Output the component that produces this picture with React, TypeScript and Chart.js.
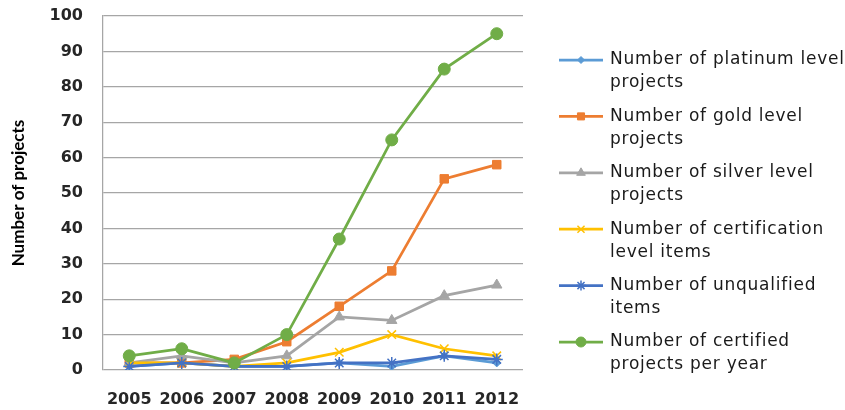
import React, { useEffect, useRef } from "react";
import { Chart, registerables } from "chart.js";
import { drawPoint } from "chart.js/helpers";

Chart.register(...registerables);

const years = ["2005", "2006", "2007", "2008", "2009", "2010", "2011", "2012"];
const platinum = [1, 2, 1, 1, 2, 1, 4, 2];
const gold = [2, 2, 3, 8, 18, 28, 54, 58];
const silver = [2, 4, 2, 4, 15, 14, 21, 24];
const certification = [2, 2, 1, 2, 5, 10, 6, 4];
const unqualified = [1, 2, 1, 1, 2, 2, 4, 3];
const certified = [4, 6, 2, 10, 37, 65, 85, 95];
const yTicks = [0, 10, 20, 30, 40, 50, 60, 70, 80, 90, 100];

const legendLines = [
  ["Number of platinum level", "projects"],
  ["Number of gold level", "projects"],
  ["Number of silver level", "projects"],
  ["Number of certification", "level items"],
  ["Number of unqualified", "items"],
  ["Number of certified", "projects per year"],
];

const legendPlugin = {
  id: "sideLegend",
  afterDraw(chart: any) {
    const ctx = chart.ctx;
    const x0 = 559;
    const x1 = 603;
    const tx = 610;
    const top = 60;
    const step = 56.4;
    ctx.save();
    chart.data.datasets.forEach((ds: any, i: number) => {
      const y = top + i * step;
      ctx.strokeStyle = ds.borderColor;
      ctx.lineWidth = 2.75;
      ctx.beginPath();
      ctx.moveTo(x0, y);
      ctx.lineTo(x1, y);
      ctx.stroke();
      ctx.fillStyle = ds.pointBackgroundColor;
      ctx.strokeStyle = ds.pointBorderColor;
      ctx.lineWidth = ds.pointBorderWidth;
      drawPoint(ctx, { pointStyle: ds.pointStyle, rotation: 0, radius: Math.max(3.5, ds.pointRadius - 1), borderWidth: ds.pointBorderWidth }, (x0 + x1) / 2, y);
      ctx.fillStyle = "#1a1a1a";
      ctx.font = "17px 'DejaVu Sans'";
      (ctx as any).letterSpacing = "0.75px";
      ctx.textBaseline = "middle";
      ctx.textAlign = "left";
      legendLines[i].forEach((t, j) => ctx.fillText(t, tx, y + j * 23));
      (ctx as any).letterSpacing = "0px";
    });
    ctx.restore();
  },
};

function mk(label: string, data: number[], color: string, style: string, radius: number, order: number, bw = 1) {
  return {
    label,
    data,
    borderColor: color,
    backgroundColor: color,
    pointBackgroundColor: color,
    pointBorderColor: color,
    pointStyle: style,
    pointRadius: radius,
    pointBorderWidth: bw,
    borderWidth: 2.75,
    tension: 0,
    order,
  };
}

export default function App() {
  const ref = useRef<HTMLCanvasElement>(null);
  useEffect(() => {
    const chart = new Chart(ref.current!, {
      type: "line",
      data: {
        labels: years,
        datasets: [
          mk("Number of platinum level projects", platinum, "#5B9BD5", "rectRot", 4, 5),
          mk("Number of gold level projects", gold, "#ED7D31", "rect", 6, 4),
          mk("Number of silver level projects", silver, "#A5A5A5", "triangle", 6, 3),
          mk("Number of certification level items", certification, "#FFC000", "crossRot", 6, 2, 1.5),
          mk("Number of unqualified items", unqualified, "#4472C4", "star", 6, 1, 1.5),
          mk("Number of certified projects per year", certified, "#70AD47", "circle", 6, 0),
        ],
      },
      options: {
        animation: false,
        responsive: false,
        maintainAspectRatio: false,
        layout: { padding: { left: 0, top: 16, right: 322, bottom: 0 } },
        plugins: { legend: { display: false }, tooltip: { enabled: false } },
        scales: {
          x: {
            offset: true,
            grid: { display: false, drawTicks: false },
            border: { display: false },
            ticks: { color: "#262626", padding: 20, font: { family: "'DejaVu Sans'", size: 16, weight: "bold" } },
            afterFit: (s: any) => { s.height = 40; s.paddingLeft = 0; s.paddingRight = 0; },
          },
          y: {
            min: 0,
            max: 100,
            afterBuildTicks: (s: any) => { s.ticks = yTicks.map((v) => ({ value: v })); },
            grid: { color: "#A6A6A6", lineWidth: 1.25, drawTicks: false },
            border: { display: true, color: "#A6A6A6", width: 1.25 },
            ticks: { color: "#262626", padding: 20, font: { family: "'DejaVu Sans'", size: 16, weight: "bold" } },
            title: { display: true, text: "Number of projects", color: "#000", font: { family: "Lato", size: 17, weight: "bold" }, padding: { top: 8, bottom: 0 } },
            afterFit: (s: any) => { s.width = 103; s.paddingTop = 0; s.paddingBottom = 0; },
          },
        },
      },
      plugins: [legendPlugin],
    });
    return () => chart.destroy();
  }, []);
  return (
    <div style={{ position: "fixed", left: 0, top: 0, width: 845, height: 410, background: "#fff" }}>
      <canvas ref={ref} width={845} height={410} style={{ width: 845, height: 410 }} />
    </div>
  );
}
